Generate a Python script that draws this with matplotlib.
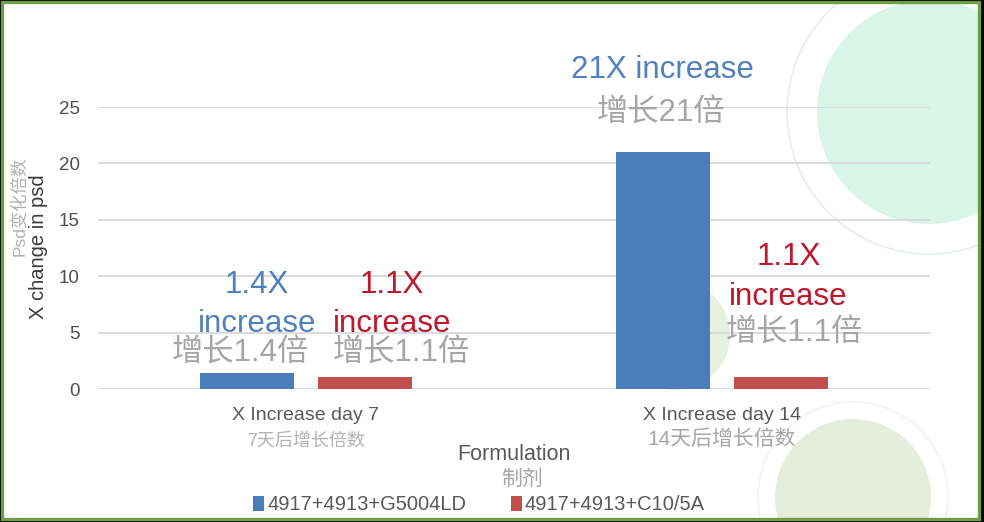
import matplotlib
matplotlib.use('Agg')
from matplotlib import pyplot as plt
from matplotlib.patches import Rectangle, Circle
from matplotlib.transforms import blended_transform_factory

plt.rcParams['font.family'] = ['Liberation Sans', 'Noto Sans CJK SC']

# data
categories = ['X Increase day 7', 'X Increase day 14']
categories_cn = ['7天后增长倍数', '14天后增长倍数']
series_names = ['4917+4913+G5004LD', '4917+4913+C10/5A']
g5004 = [1.4, 21.0]
c10 = [1.1, 1.1]

blue = '#4a7ebb'
red = '#c0504d'
blue_txt = '#4f80c0'
red_txt = '#c0172b'
gray_txt = '#a6a6a6'
dark_txt = '#595959'

fig = plt.figure(figsize=(9.84, 5.22), dpi=100)

# background: frame and decorative circles (pixel coords)
bg = fig.add_axes([0, 0, 1, 1], zorder=0)
bg.set_xlim(0, 984)
bg.set_ylim(522, 0)
bg.axis('off')
bg.add_patch(Rectangle((0, 0), 984, 522, facecolor='black', edgecolor='none'))
inner = Rectangle((1.5, 1.5), 977.5, 517.5, facecolor='white', edgecolor='none')
bg.add_patch(inner)
deco = [((929, 112), 112, '#d9f5ea', None),
        ((929, 112), 142, 'none', '#e0ece6'),
        ((853, 497), 78, '#e6eddb', None),
        ((853, 497), 95, 'none', '#eef2ea'),
        ((675, 335), 55, '#e7efe0', None)]
for c, r, fc, ec in deco:
    p = Circle(c, r, facecolor=fc, edgecolor=ec if ec else 'none', lw=1.0)
    bg.add_patch(p)
    p.set_clip_path(inner)
bg.add_patch(Rectangle((1.5, 1.5), 977.5, 517.5, facecolor='none',
                       edgecolor='#6f9f45', lw=2.4))

# main chart
ax = fig.add_axes([98 / 984, 133 / 522, 832 / 984, 282 / 522], zorder=1)
ax.set_facecolor('none')
x = [0, 1]
w = 0.226
off = 0.142
ax.bar([i - off for i in x], g5004, width=w, color=blue, zorder=3, label=series_names[0])
ax.bar([i + off for i in x], c10, width=w, color=red, zorder=3, label=series_names[1])

ax.set_xlim(-0.5, 1.5)
ax.set_ylim(0, 25)
ax.set_yticks(range(0, 26, 5))
ax.yaxis.grid(True, color='#d9d9d9', lw=1.3, zorder=1)
ax.set_xticks([])
ax.tick_params(axis='y', length=0, pad=13, labelsize=13.5, labelcolor='#505050')
for s in ax.spines.values():
    s.set_visible(False)

# category labels
tr = blended_transform_factory(ax.transData, ax.transAxes)
for i, (en, cn) in enumerate(zip(categories, categories_cn)):
    ax.text(i, -0.110, en, transform=tr, ha='center', va='baseline',
            fontsize=14, color=dark_txt)
    ax.text(i, -0.199, cn, transform=tr, ha='center', va='baseline',
            fontsize=13 if i == 0 else 15, color='#b3b3b3' if i == 0 else gray_txt)

# axis titles
ax.text(0.5, -0.250, 'Formulation', transform=ax.transAxes, ha='center',
        va='baseline', fontsize=15.5, color=dark_txt)
ax.text(0.51, -0.342, '制剂', transform=ax.transAxes, ha='center',
        va='baseline', fontsize=15, color=gray_txt)
fig.text(38 / 984, 1 - 247 / 522, 'X change in psd', rotation=90, ha='center',
         va='center', fontsize=14.5, color='#3a3a3a')
fig.text(19 / 984, 1 - 206 / 522, 'Psd变化倍数', rotation=90, ha='center',
         va='center', fontsize=12.5, color='#b0b0b0')

# callouts
notes = [
    (-0.118, 8.51, '1.4X', blue_txt),
    (-0.118, 5.05, 'increase', blue_txt),
    (-0.159, 2.39, '增长1.4倍', gray_txt),
    (0.207, 8.51, '1.1X', red_txt),
    (0.207, 5.05, 'increase', red_txt),
    (0.228, 2.39, '增长1.1倍', gray_txt),
    (0.856, 27.57, '21X increase', blue_txt),
    (0.853, 23.67, '增长21倍', gray_txt),
    (1.161, 10.99, '1.1X', red_txt),
    (1.159, 7.45, 'increase', red_txt),
    (1.175, 4.17, '增长1.1倍', gray_txt),
]
for nx, ny, t, col in notes:
    ax.text(nx, ny, t, ha='center', va='baseline', fontsize=22.5, color=col,
            clip_on=False, zorder=4)

leg = ax.legend(ncol=2, loc='center', bbox_to_anchor=(479 / 984, 1 - 505 / 522),
                bbox_transform=fig.transFigure, frameon=False, fontsize=14.5,
                handlelength=0.55, handleheight=0.75, handletextpad=0.15,
                columnspacing=2.2, labelcolor=dark_txt)

fig.savefig('out.png', dpi=100)
